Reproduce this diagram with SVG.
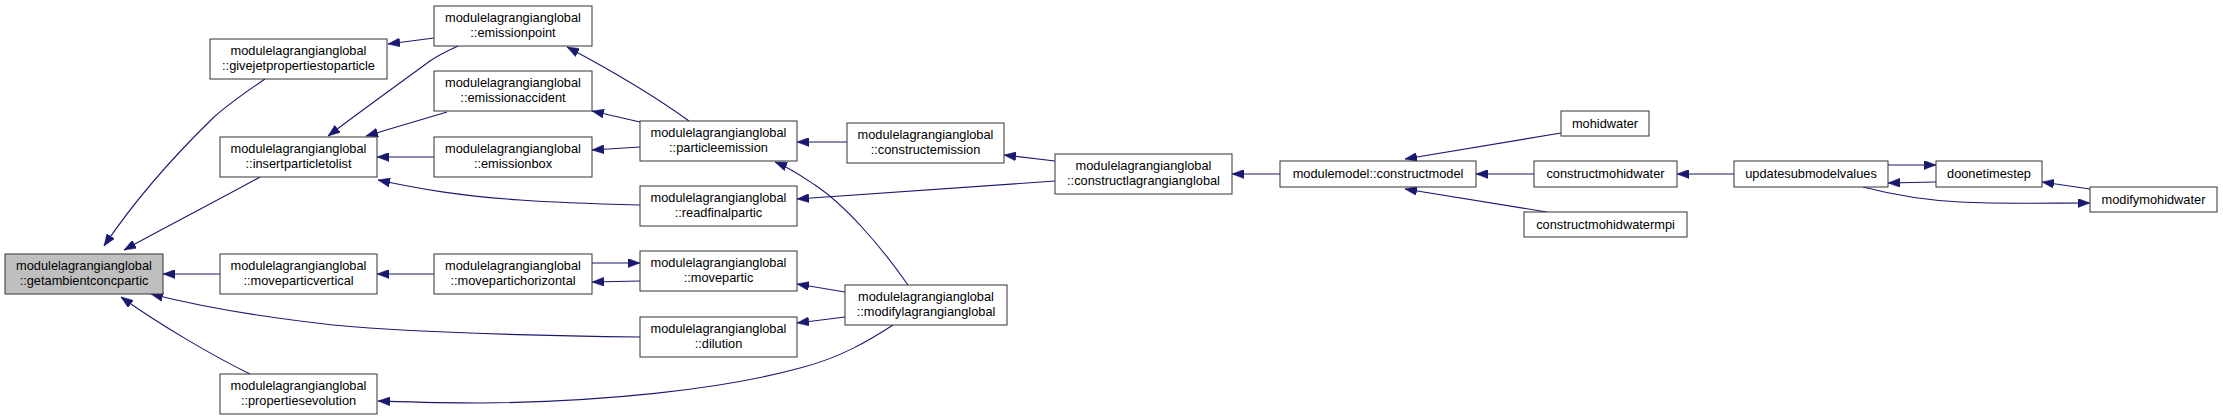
<svg xmlns="http://www.w3.org/2000/svg" width="2223" height="420" viewBox="0 0 2223 420">
<style>
.n rect{fill:#fff;stroke:#333;stroke-width:1}
.n.hl rect{fill:#bfbfbf}
.n text{font-family:"Liberation Sans",Arial,sans-serif;font-size:12.8px;fill:#000;text-anchor:middle}
.e path{fill:none;stroke:#191970;stroke-width:1.1;marker-end:url(#ah)}
</style>
<defs>
<marker id="ah" viewBox="0 0 12 9" refX="12" refY="4.5" markerWidth="12" markerHeight="9" markerUnits="userSpaceOnUse" orient="auto">
<path d="M0,0 L12,4.5 L0,9 z" fill="#191970" stroke="#191970" stroke-width="0.5"/>
</marker>
</defs>
<rect width="2223" height="420" fill="#fff"/>
<g id="connectors" class="e">
<path d="M265,79 C240,96 225,107 213,118 C175,155 135,200 104,246"/>
<path d="M260,177 C230,194 175,222 124,250"/>
<path d="M220,274 L163,274"/>
<path d="M640,337 C560,336 420,333 333,325 C270,318 210,309 151,294"/>
<path d="M250,374 C215,357 160,325 121,297"/>
<path d="M893,325 C870,340 840,358 800,368 C720,390 600,402 480,403 C440,403 410,402 378,401"/>
<path d="M434,38 L388,44"/>
<path d="M458,46 C445,52 437,56 430,61 C400,83 365,108 328,136"/>
<path d="M447,112 L366,136"/>
<path d="M434,157 L377,157"/>
<path d="M640,205 C600,204 560,203 520,200 C460,196 420,189 378,180"/>
<path d="M434,274 L377,274"/>
<path d="M689,121 C660,100 620,75 567,47"/>
<path d="M640,122 L592,111"/>
<path d="M640,147 L592,150"/>
<path d="M592,263 L640,263"/>
<path d="M640,281 L592,282"/>
<path d="M847,142 L797,142"/>
<path d="M908,285 C880,245 845,205 815,185 C800,175 790,168 775,162"/>
<path d="M845,292 L797,284"/>
<path d="M845,317 L797,323"/>
<path d="M1055,161 L1004,155"/>
<path d="M1055,181 L797,199"/>
<path d="M1280,174 L1232,174"/>
<path d="M1561,133 L1405,159"/>
<path d="M1534,174 L1476,174"/>
<path d="M1547,212 L1405,189"/>
<path d="M1734,174 L1677,174"/>
<path d="M1888,165 L1936,165"/>
<path d="M1936,182 L1888,183"/>
<path d="M2090,189 L2042,182"/>
<path d="M1863,187 C1890,194 1920,200 1960,202 C2000,204 2050,203 2090,203"/>
</g>
<g id="getambientconcpartic" class="n hl"><rect x="5" y="254" width="158" height="40"/><text x="84" y="270">modulelagrangianglobal</text><text x="84" y="285">::getambientconcpartic</text></g>
<g id="givejetpropertiestoparticle" class="n"><rect x="210" y="39" width="177" height="40"/><text x="298.5" y="55">modulelagrangianglobal</text><text x="298.5" y="70">::givejetpropertiestoparticle</text></g>
<g id="insertparticletolist" class="n"><rect x="220" y="137" width="157" height="40"/><text x="298.5" y="153">modulelagrangianglobal</text><text x="298.5" y="168">::insertparticletolist</text></g>
<g id="moveparticvertical" class="n"><rect x="220" y="254" width="157" height="40"/><text x="298.5" y="270">modulelagrangianglobal</text><text x="298.5" y="285">::moveparticvertical</text></g>
<g id="propertiesevolution" class="n"><rect x="220" y="374" width="157" height="40"/><text x="298.5" y="390">modulelagrangianglobal</text><text x="298.5" y="405">::propertiesevolution</text></g>
<g id="emissionpoint" class="n"><rect x="434" y="6" width="158" height="40"/><text x="513" y="22">modulelagrangianglobal</text><text x="513" y="37">::emissionpoint</text></g>
<g id="emissionaccident" class="n"><rect x="434" y="71" width="158" height="40"/><text x="513" y="87">modulelagrangianglobal</text><text x="513" y="102">::emissionaccident</text></g>
<g id="emissionbox" class="n"><rect x="434" y="137" width="158" height="40"/><text x="513" y="153">modulelagrangianglobal</text><text x="513" y="168">::emissionbox</text></g>
<g id="movepartichorizontal" class="n"><rect x="434" y="254" width="158" height="40"/><text x="513" y="270">modulelagrangianglobal</text><text x="513" y="285">::movepartichorizontal</text></g>
<g id="particleemission" class="n"><rect x="640" y="121" width="157" height="40"/><text x="718.5" y="137">modulelagrangianglobal</text><text x="718.5" y="152">::particleemission</text></g>
<g id="readfinalpartic" class="n"><rect x="640" y="186" width="157" height="40"/><text x="718.5" y="202">modulelagrangianglobal</text><text x="718.5" y="217">::readfinalpartic</text></g>
<g id="movepartic" class="n"><rect x="640" y="251" width="157" height="40"/><text x="718.5" y="267">modulelagrangianglobal</text><text x="718.5" y="282">::movepartic</text></g>
<g id="dilution" class="n"><rect x="640" y="317" width="157" height="40"/><text x="718.5" y="333">modulelagrangianglobal</text><text x="718.5" y="348">::dilution</text></g>
<g id="constructemission" class="n"><rect x="847" y="123" width="157" height="40"/><text x="925.5" y="139">modulelagrangianglobal</text><text x="925.5" y="154">::constructemission</text></g>
<g id="modifylagrangianglobal" class="n"><rect x="845" y="285" width="162" height="40"/><text x="926" y="301">modulelagrangianglobal</text><text x="926" y="316">::modifylagrangianglobal</text></g>
<g id="constructlagrangianglobal" class="n"><rect x="1055" y="154" width="177" height="40"/><text x="1143.5" y="170">modulelagrangianglobal</text><text x="1143.5" y="185">::constructlagrangianglobal</text></g>
<g id="constructmodel" class="n"><rect x="1280" y="161" width="196" height="26"/><text x="1378" y="178">modulemodel::constructmodel</text></g>
<g id="mohidwater" class="n"><rect x="1561" y="111" width="88" height="25"/><text x="1605" y="128">mohidwater</text></g>
<g id="constructmohidwater" class="n"><rect x="1534" y="161" width="143" height="26"/><text x="1605.5" y="178">constructmohidwater</text></g>
<g id="constructmohidwatermpi" class="n"><rect x="1524" y="212" width="163" height="25"/><text x="1605.5" y="229">constructmohidwatermpi</text></g>
<g id="updatesubmodelvalues" class="n"><rect x="1734" y="161" width="154" height="26"/><text x="1811" y="178">updatesubmodelvalues</text></g>
<g id="doonetimestep" class="n"><rect x="1936" y="161" width="106" height="26"/><text x="1989" y="178">doonetimestep</text></g>
<g id="modifymohidwater" class="n"><rect x="2090" y="187" width="127" height="25"/><text x="2153.5" y="204">modifymohidwater</text></g>
</svg>
